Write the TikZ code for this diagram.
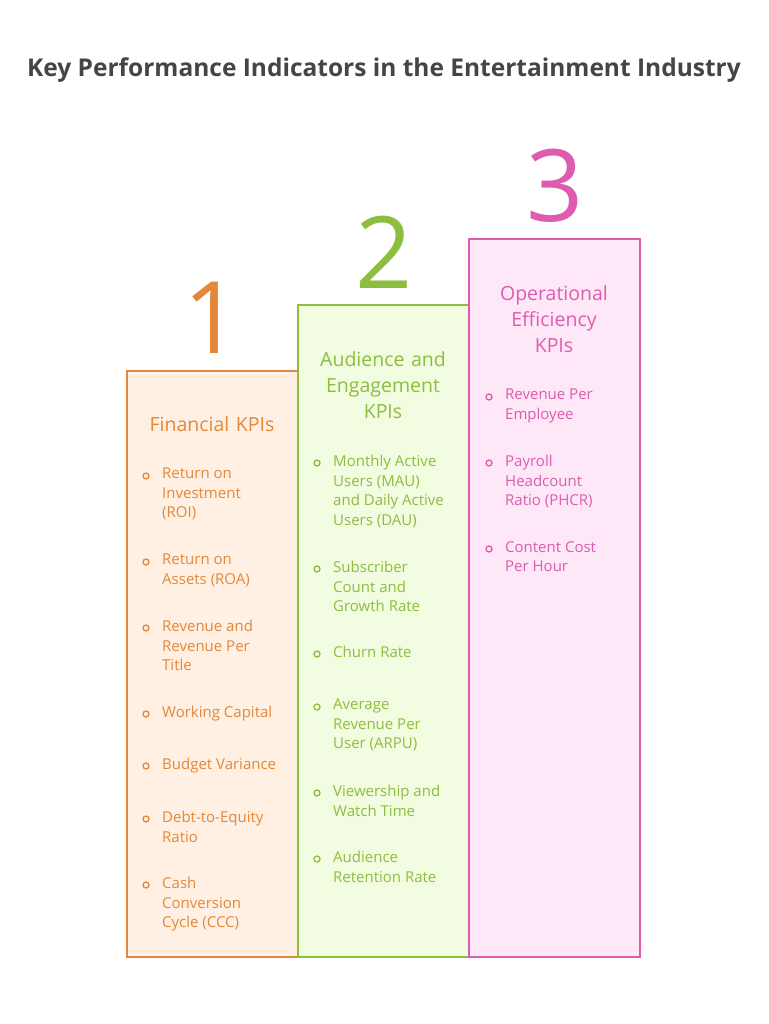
\documentclass[tikz,border=0pt]{standalone}
\usepackage{fontspec}
\setmainfont{Open Sans}
\definecolor{orangeK}{HTML}{E3883A}
\definecolor{orangeF}{HTML}{FFF0E3}
\definecolor{greenK}{HTML}{8CBE3F}
\definecolor{greenF}{HTML}{F2FCE0}
\definecolor{pinkK}{HTML}{DE5CB0}
\definecolor{pinkF}{HTML}{FEE7F6}
\definecolor{titleK}{HTML}{454545}
\tikzset{
  col/.style={draw=#1, line width=1.5pt},
  num/.style={text=#1, font=\fontsize{100}{100}\selectfont},
  head/.style={text=#1, font=\fontsize{19.5}{26}\selectfont, align=center, text width=150pt},
  item/.style={text=#1, font=\fontsize{15}{19.5}\selectfont, align=left, anchor=north west, inner sep=0pt}
}
\tikzset{dot/.style={draw=#1, circle, line width=1.3pt, inner sep=0pt, minimum size=6pt}}
\begin{document}
\begin{tikzpicture}[x=1pt,y=-1pt]
  \useasboundingbox (0,0) rectangle (768,1024);
  \node[text=titleK, font=\bfseries\fontsize{24.5}{28}\selectfont] (title) at (384,70) {Key Performance Indicators in the Entertainment Industry};

  % Columns
  \draw[col=orangeK, fill=orangeF] (127,371) rectangle (298,957);
  \draw[col=greenK, fill=greenF] (298,305) rectangle (469,957);
  \draw[col=pinkK, fill=pinkF] (469,239) rectangle (640,957);

  % Numbers
  \node[num=orangeK] (n1) at (212,318) {1};
  \node[num=greenK] (n2) at (384,252) {2};
  \node[num=pinkK] (n3) at (555,186) {3};

  % Headings
  \node[head=orangeK] (h1) at (212,424) {Financial KPIs};
  \node[head=greenK] (h2) at (383,385) {Audience and\\Engagement\\KPIs};
  \node[head=pinkK] (h3) at (554,319) {Operational\\Efficiency\\KPIs};

  % Items
  \foreach \y/\t [count=\i] in {473/{Return on\\Investment\\(ROI)},559/{Return on\\Assets (ROA)},625/{Revenue and\\Revenue Per\\Title},711/{Working Capital},763/{Budget Variance},816/{Debt-to-Equity\\Ratio},882/{Cash\\Conversion\\Cycle (CCC)}}{
    \node[dot=orangeK] (od\i) at (146,\y+3) {};
    \node[item=orangeK] (ot\i) at (162,\y-5) {\t};
  }
  \foreach \y/\t [count=\i] in {460/{Monthly Active\\Users (MAU)\\and Daily Active\\Users (DAU)},566/{Subscriber\\Count and\\Growth Rate},651/{Churn Rate},704/{Average\\Revenue Per\\User (ARPU)},790/{Viewership and\\Watch Time},856/{Audience\\Retention Rate}}{
    \node[dot=greenK] (gd\i) at (317,\y+3) {};
    \node[item=greenK] (gt\i) at (333,\y-5) {\t};
  }
  \foreach \y/\t [count=\i] in {394/{Revenue Per\\Employee},460/{Payroll\\Headcount\\Ratio (PHCR)},546/{Content Cost\\Per Hour}}{
    \node[dot=pinkK] (pd\i) at (489,\y+3) {};
    \node[item=pinkK] (pt\i) at (505,\y-5) {\t};
  }
\end{tikzpicture}
\end{document}
